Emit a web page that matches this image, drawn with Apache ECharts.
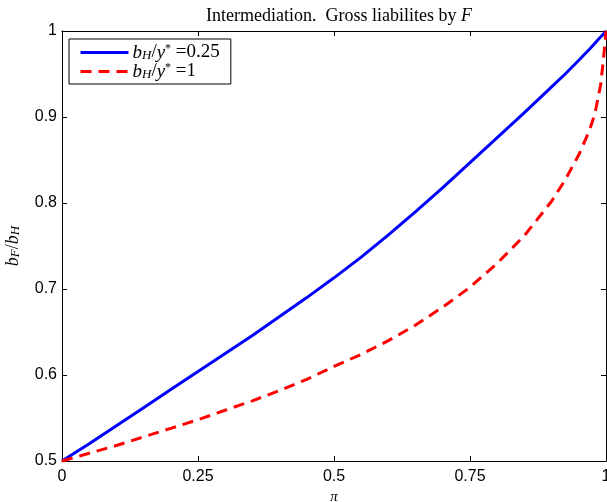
<!DOCTYPE html>
<html>
<head>
<meta charset="utf-8">
<script src="https://cdn.jsdelivr.net/npm/echarts@6/dist/echarts.min.js"></script>
<style>
  html, body { margin: 0; padding: 0; background: #fff; }
  #chart { width: 607px; height: 502px; }
</style>
</head>
<body>
<div id="chart"></div>
<script>
// Share of intermediary liabilities b_F/b_H as a function of pi
const piValues = [0, 0.05, 0.1, 0.15, 0.2, 0.25, 0.3, 0.35, 0.4, 0.45, 0.5, 0.55, 0.6, 0.65, 0.7, 0.75, 0.8, 0.85, 0.9, 0.925, 0.95, 0.97, 0.98, 0.99, 0.995, 1];
// b_H / y* = 0.25
const ratioLowDebt = [0.5, 0.520, 0.541, 0.562, 0.583, 0.604, 0.625, 0.646, 0.668, 0.690, 0.713, 0.737, 0.763, 0.790, 0.818, 0.847, 0.876, 0.905, 0.935, 0.950, 0.966, 0.979, 0.986, 0.993, 0.996, 1.0];
// b_H / y* = 1
const ratioHighDebt = [0.5, 0.509, 0.518, 0.528, 0.538, 0.548, 0.559, 0.570, 0.582, 0.595, 0.610, 0.624, 0.640, 0.658, 0.679, 0.702, 0.730, 0.762, 0.802, 0.827, 0.856, 0.885, 0.905, 0.937, 0.965, 1.0];

const xTickLabels = ['0', '0.25', '0.5', '0.75', '1'];
const yTickLabels = ['0.5', '0.6', '0.7', '0.8', '0.9', '1'];
const seriesNames = ['bH/y*=0.25', 'bH/y*=1'];
const seriesLevels = ['0.25', '1'];

const serif = '"Liberation Serif", "DejaVu Serif", serif';
const sans = '"Liberation Sans", Arial, sans-serif';

// rich-text styles for the small math fragments (italic symbols, sub/superscripts)
function mathStyles(size) {
  const small = Math.round(size * 0.7);
  return {
    i:   { fontFamily: serif, fontStyle: 'italic', fontWeight: 'normal', fontSize: size, lineHeight: size, verticalAlign: 'middle', color: '#000' },
    n:   { fontFamily: serif, fontWeight: 'normal', fontSize: size, lineHeight: size, verticalAlign: 'middle', color: '#000' },
    sub: { fontFamily: serif, fontStyle: 'italic', fontWeight: 'normal', fontSize: small, lineHeight: small - 1, verticalAlign: 'bottom', color: '#000' },
    sup: { fontFamily: serif, fontWeight: 'normal', fontSize: small - 1, lineHeight: small - 1, verticalAlign: 'top', color: '#000' }
  };
}

const pairs = vals => piValues.map((p, k) => [p, vals[k]]);

const chart = echarts.init(document.getElementById('chart'), null, { renderer: 'canvas' });

chart.setOption({
  animation: false,
  backgroundColor: '#fff',
  title: {
    text: '{n|Intermediation.  Gross liabilites by }{i|F}',
    left: 334,
    textAlign: 'center',
    top: 2,
    textStyle: { fontWeight: 'normal', rich: mathStyles(18) }
  },
  grid: { left: 62, right: 1, top: 31, bottom: 41, outerBoundsMode: 'none', containLabel: false },
  legend: {
    orient: 'vertical',
    left: 69,
    top: 39,
    selectedMode: false,
    padding: [4, 11, 3, 10],
    itemGap: 0,
    itemWidth: 48,
    itemHeight: 14,
    borderColor: '#000',
    borderWidth: 1,
    borderRadius: 0,
    backgroundColor: '#fff',
    itemStyle: { opacity: 0 },
    lineStyle: { width: 3 },
    data: seriesNames,
    formatter: name => {
      const lvl = seriesLevels[seriesNames.indexOf(name)];
      return '{i|b}{sub|H}{n|/}{i|y}{sup|*}{n| =' + lvl + '}';
    },
    textStyle: { rich: mathStyles(19), padding: [0, 0, 0, -1] }
  },
  xAxis: [
    {
      type: 'value', min: 0, max: 1, interval: 0.25,
      name: 'π', nameLocation: 'middle', nameGap: 22,
      nameTextStyle: { fontFamily: serif, fontStyle: 'italic', fontSize: 15, color: '#000' },
      axisLine: { show: true, onZero: false, lineStyle: { color: '#000', width: 1 } },
      axisTick: { show: true, inside: true, length: 5, lineStyle: { color: '#000' } },
      axisLabel: { color: '#000', fontFamily: sans, fontSize: 16, margin: 8,
                   formatter: (v, idx) => xTickLabels[idx] },
      splitLine: { show: false }
    },
    {
      type: 'value', min: 0, max: 1, interval: 0.25, position: 'top',
      axisLine: { show: true, onZero: false, lineStyle: { color: '#000', width: 1 } },
      axisTick: { show: true, inside: true, length: 5, lineStyle: { color: '#000' } },
      axisLabel: { show: false },
      splitLine: { show: false }
    }
  ],
  yAxis: [
    {
      type: 'value', min: 0.5, max: 1, interval: 0.1,
      name: '{i|b}{sub|F}{n|/}{i|b}{sub|H}',
      nameLocation: 'middle', nameRotate: 90, nameGap: 40,
      nameTextStyle: { rich: mathStyles(18) },
      axisLine: { show: true, onZero: false, lineStyle: { color: '#000', width: 1 } },
      axisTick: { show: true, inside: true, length: 5, lineStyle: { color: '#000' } },
      axisLabel: { color: '#000', fontFamily: sans, fontSize: 16, margin: 5,
                   formatter: (v, idx) => yTickLabels[idx] },
      splitLine: { show: false }
    },
    {
      type: 'value', min: 0.5, max: 1, interval: 0.1, position: 'right',
      axisLine: { show: true, onZero: false, lineStyle: { color: '#000', width: 1 } },
      axisTick: { show: true, inside: true, length: 5, lineStyle: { color: '#000' } },
      axisLabel: { show: false },
      splitLine: { show: false }
    }
  ],
  series: [
    {
      name: seriesNames[0],
      type: 'line',
      data: pairs(ratioLowDebt),
      symbol: 'none',
      showSymbol: false,
      clip: false,
      lineStyle: { color: '#0000ff', width: 3, type: 'solid' },
      itemStyle: { color: '#0000ff' }
    },
    {
      name: seriesNames[1],
      type: 'line',
      data: pairs(ratioHighDebt),
      symbol: 'none',
      showSymbol: false,
      clip: false,
      lineStyle: { color: '#ff0000', width: 3, type: [11, 7] },
      itemStyle: { color: '#ff0000' }
    }
  ]
});
</script>
</body>
</html>
